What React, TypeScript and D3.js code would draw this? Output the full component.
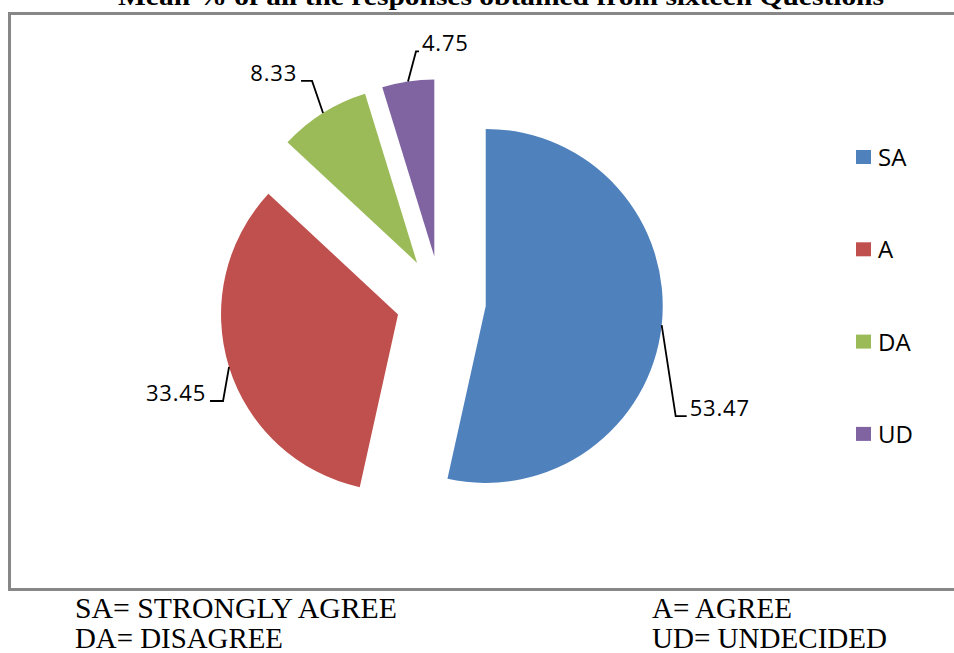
import React from "react";
import * as d3 from "d3";

// Response categories and their mean percentages
const categories = ["SA", "A", "DA", "UD"];
const values = [53.47, 33.45, 8.33, 4.75];
const colors = ["#4F81BD", "#C0504D", "#9BBB59", "#8064A2"];
const labelText = ["53.47", "33.45", "8.33", "4.75"];

// Footer key lines
const keyLeft = ["SA= STRONGLY AGREE", "DA= DISAGREE"];
const keyRight = ["A= AGREE", "UD= UNDECIDED"];

const title = "Mean % of all the responses obtained from sixteen Questions";

// Layout
const W = 954;
const H = 653;
const cx = 441;
const cy = 301;
const R = 177;
const explode = 45;

// Leader elbows (offset of the elbow from the arc point) and the label side
const leaderElbow: [number, number][] = [
  [14, 91],
  [-6, 34],
  [-11, -32],
  [8, -30],
];
const leaderTail = [11, -13, -11, 3];

export default function App() {
  const pie = d3
    .pie<number>()
    .sort(null)
    .value((d) => d)
    .startAngle(0)
    .endAngle(2 * Math.PI);
  const arcs = pie(values);
  const arcGen = d3.arc<d3.PieArcDatum<number>>().innerRadius(0).outerRadius(R);

  return (
    <svg
      width={W}
      height={H}
      style={{ position: "absolute", left: 0, top: 0, background: "#fff" }}
    >
      <text
        x={118}
        y={5}
        textLength={766}
        lengthAdjust="spacingAndGlyphs"
        fontFamily="'Liberation Serif', 'Times New Roman', serif"
        fontWeight="bold"
        fontSize={25}
        fill="#000"
      >
        {title}
      </text>

      <rect
        x={9.5}
        y={13.5}
        width={960}
        height={576}
        fill="#fff"
        stroke="#878787"
        strokeWidth={3}
      />

      {arcs.map((a, i) => {
        const mid = (a.startAngle + a.endAngle) / 2;
        const ox = cx + Math.sin(mid) * explode;
        const oy = cy - Math.cos(mid) * explode;
        const px = ox + Math.sin(mid) * R;
        const py = oy - Math.cos(mid) * R;
        const ex = px + leaderElbow[i][0];
        const ey = py + leaderElbow[i][1];
        const tx = ex + leaderTail[i];
        const right = leaderTail[i] > 0;
        return (
          <g key={categories[i]}>
            <path
              d={arcGen(a) || ""}
              transform={`translate(${ox},${oy})`}
              fill={colors[i]}
            />
            <polyline
              points={`${px},${py} ${ex},${ey} ${tx},${ey}`}
              fill="none"
              stroke="#000"
              strokeWidth={1.8}
            />
            <text
              x={right ? tx + 3 : tx - 4}
              y={ey}
              textAnchor={right ? "start" : "end"}
              fontFamily="'Open Sans', sans-serif"
              fontSize={22}
              letterSpacing={0.8}
              fill="#000"
            >
              {labelText[i]}
            </text>
          </g>
        );
      })}

      {categories.map((c, i) => (
        <g key={c} transform={`translate(856,${150 + i * 92.3})`}>
          <rect width={15} height={14} fill={colors[i]} />
          <text
            x={22}
            y={16}
            fontFamily="'Open Sans', sans-serif"
            fontSize={24}
            fill="#000"
          >
            {c}
          </text>
        </g>
      ))}

      {keyLeft.map((t, i) => (
        <text
          key={t}
          x={75}
          y={618 + i * 30}
          textLength={[322, 208][i]}
          lengthAdjust="spacingAndGlyphs"
          fontFamily="'Liberation Serif', 'Times New Roman', serif"
          fontSize={30}
          fill="#000"
        >
          {t}
        </text>
      ))}
      {keyRight.map((t, i) => (
        <text
          key={t}
          x={652}
          y={618 + i * 30}
          textLength={[140, 235][i]}
          lengthAdjust="spacingAndGlyphs"
          fontFamily="'Liberation Serif', 'Times New Roman', serif"
          fontSize={30}
          fill="#000"
        >
          {t}
        </text>
      ))}
    </svg>
  );
}
